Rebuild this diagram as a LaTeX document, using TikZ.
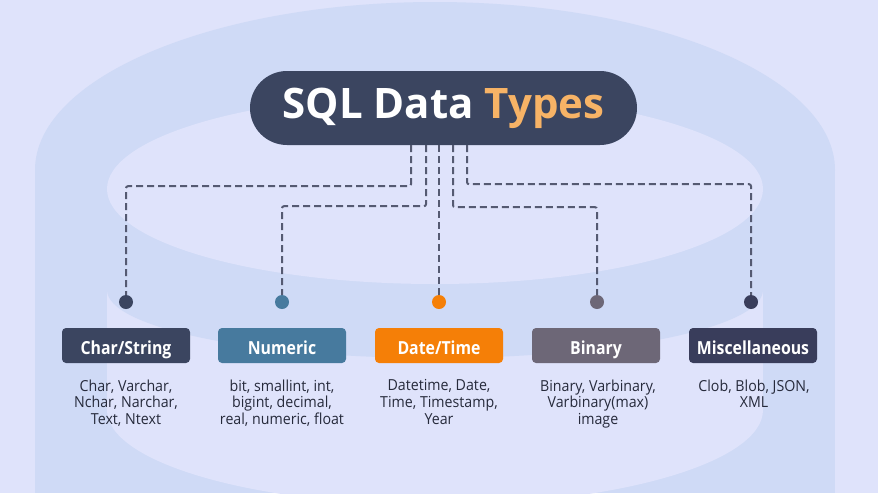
\documentclass[tikz,border=0pt]{standalone}
\usepackage{fontspec}
\setmainfont{Open Sans}
\newfontfamily\labelfont{Open Sans}[FakeStretch=0.88]
\newfontfamily\descfont{Open Sans}[FakeStretch=0.935]
\usetikzlibrary{calc}
\definecolor{bgc}{HTML}{DFE3FB}
\definecolor{cylc}{HTML}{CFDAF6}
\definecolor{navyc}{HTML}{3B4560}
\definecolor{titleor}{HTML}{F7B366}
\definecolor{numc}{HTML}{477A9E}
\definecolor{datec}{HTML}{F57F07}
\definecolor{binc}{HTML}{6D6777}
\definecolor{miscc}{HTML}{393D5B}
\definecolor{descc}{HTML}{262A3B}
\definecolor{dashc}{HTML}{555A72}
\tikzset{
  titlebox/.style={fill=navyc, text=white, minimum width=387pt, minimum height=74pt,
    rounded corners=37pt, inner sep=0pt, font=\fontsize{42}{48}\selectfont\bfseries},
  catbox/.style={minimum width=128pt, minimum height=35pt, rounded corners=4pt,
    inner sep=0pt, text=white, text height=17pt, text depth=0pt,
    font=\labelfont\fontsize{18}{20}\selectfont\bfseries},
  dotnode/.style={circle, minimum size=14pt, inner sep=0pt},
  desc/.style={align=center, text=descc, inner sep=0pt, anchor=north,
    font=\descfont\fontsize{15.2}{16.7}\selectfont},
  dashline/.style={draw=dashc, line width=2pt, dash pattern=on 7pt off 4pt, rounded corners=2pt}
}
\begin{document}
\begin{tikzpicture}[x=1pt,y=-1pt]
\useasboundingbox (0,0) rectangle (878,493);
% background
\fill[bgc] (0,0) rectangle (878,493);
\fill[cylc] (435,170) ellipse [x radius=400pt, y radius=168pt];
\fill[cylc] (35,170) rectangle (835,493);
\fill[bgc] (435,410) ellipse [x radius=328pt, y radius=95pt];
\fill[bgc] (107,290) rectangle (763,410);
\fill[cylc] (435,290) ellipse [x radius=328pt, y radius=68pt];
\fill[bgc] (435,189) ellipse [x radius=328pt, y radius=95pt];
% title
\node[titlebox] (title) at (443.5,108) {SQL Data \textcolor{titleor}{Types}};
% dots
\node[dotnode, fill=navyc] (d1) at (126,302) {};
\node[dotnode, fill=numc] (d2) at (282,302) {};
\node[dotnode, fill=datec] (d3) at (439,302) {};
\node[dotnode, fill=binc] (d4) at (597,302) {};
\node[dotnode, fill=miscc] (d5) at (751,302) {};
% connectors
\draw[dashline] ([xshift=-32.5pt]title.south) -- ++(0,41) -| (d1);
\draw[dashline] ([xshift=-17.5pt]title.south) -- ++(0,61) -| (d2);
\draw[dashline] (title.south -| d3) -- (d3);
\draw[dashline] ([xshift=9.5pt]title.south) -- ++(0,62) -| (d4);
\draw[dashline] ([xshift=23.5pt]title.south) -- ++(0,39) -| (d5);
% category boxes
\node[catbox, fill=navyc] (b1) at (126,345.5) {Char/String};
\node[catbox, fill=numc] (b2) at (282,345.5) {Numeric};
\node[catbox, fill=datec] (b3) at (439,345.5) {Date/Time};
\node[catbox, fill=binc] (b4) at (596,345.5) {Binary};
\node[catbox, fill=miscc] (b5) at (753,345.5) {Miscellaneous};
% descriptions
\node[desc] (t1) at (126,379.5) {Char, Varchar,\\Nchar, Narchar,\\Text, Ntext};
\node[desc] (t2) at (282,379.5) {bit, smallint, int,\\bigint, decimal,\\real, numeric, float};
\node[desc] (t3) at (439,379.5) {Datetime, Date,\\Time, Timestamp,\\Year};
\node[desc] (t4) at (598,379.5) {Binary, Varbinary,\\Varbinary(max)\\image};
\node[desc] (t5) at (754,379.5) {Clob, Blob, JSON,\\XML};
\end{tikzpicture}
\end{document}
